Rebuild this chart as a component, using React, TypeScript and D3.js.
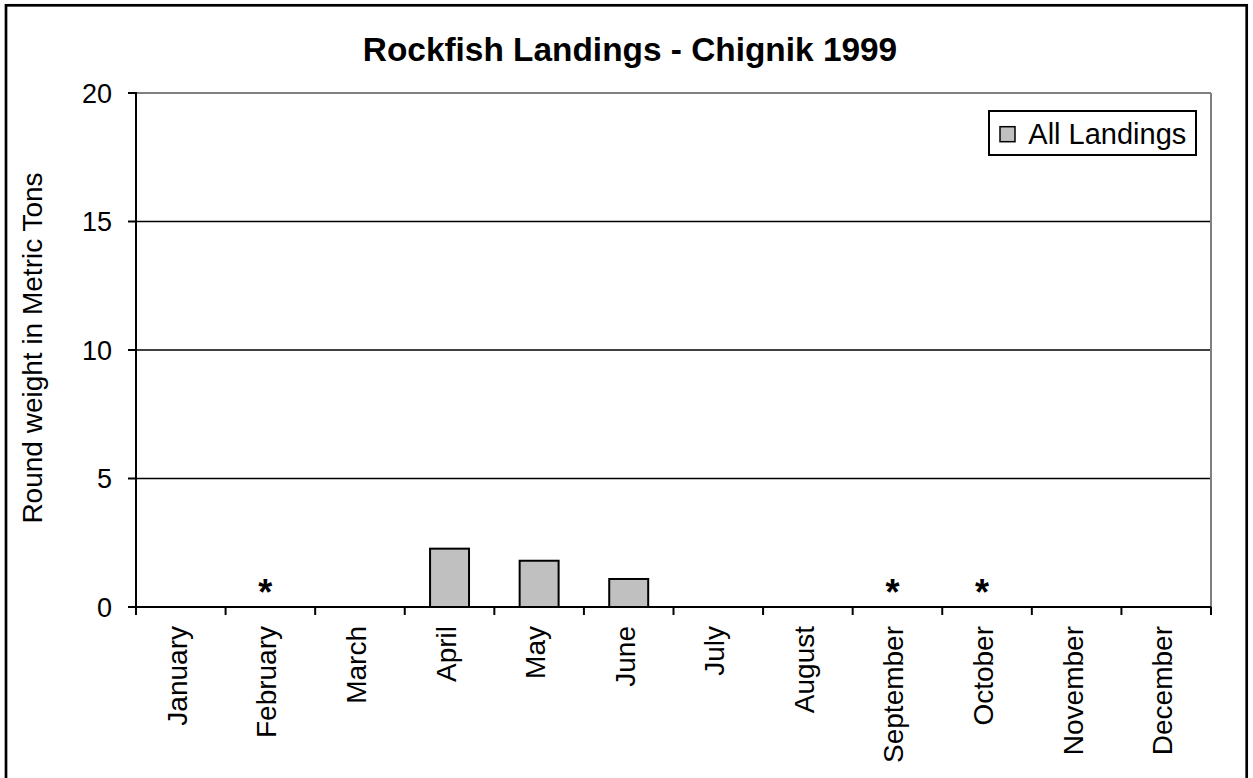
import React from "react";
import * as d3 from "d3";

const months = ["January","February","March","April","May","June","July","August","September","October","November","December"];
const landings = [0, 0, 0, 2.27, 1.8, 1.09, 0, 0, 0, 0, 0, 0];
const confidential = ["February", "September", "October"];
const yTicks = [0, 5, 10, 15, 20];
const title = "Rockfish Landings - Chignik 1999";
const yLabel = "Round weight in Metric Tons";
const legendLabel = "All Landings";

const W = 1253, H = 778;
const plot = { left: 136, right: 1211, top: 93, bottom: 607 };
const font = "Arial, 'Liberation Sans', Helvetica, sans-serif";

export default function App() {
  const x = d3.scaleBand<string>().domain(months).range([plot.left, plot.right]).padding(0);
  const y = d3.scaleLinear().domain([0, 20]).range([plot.bottom, plot.top]);
  const step = x.step();
  const barW = step * 0.435;
  const boundaries = d3.range(months.length + 1).map((i) => plot.left + i * step);

  return (
    <div style={{ position: "fixed", left: 0, top: 0, width: W, height: H, background: "#fff" }}>
      <svg width={W} height={H} style={{ display: "block", fontFamily: font }}>
        <rect x={0} y={0} width={W} height={H} fill="#fff" />
        <rect x={6} y={5.3} width={1240.7} height={800} fill="none" stroke="#000" strokeWidth={2.7} />
        <text x={630} y={61} textAnchor="middle" fontSize={33.4} fontWeight="bold">{title}</text>

        {/* gridlines */}
        {yTicks.filter((t) => t > 0 && t < 20).map((t) => (
          <line key={"g" + t} x1={plot.left} x2={plot.right} y1={y(t)} y2={y(t)} stroke="#000" strokeWidth={1.5} />
        ))}
        {/* plot border top/right */}
        <line x1={plot.left} x2={plot.right} y1={y(20)} y2={y(20)} stroke="#808080" strokeWidth={2} />
        <line x1={plot.right} x2={plot.right} y1={y(20)} y2={y(0)} stroke="#808080" strokeWidth={2} />

        {/* bars */}
        {months.map((m, i) => landings[i] > 0 ? (
          <rect key={"b" + m} x={(x(m) as number) + step / 2 - barW / 2} y={y(landings[i])}
            width={barW} height={y(0) - y(landings[i])} fill="#c0c0c0" stroke="#000" strokeWidth={2} />
        ) : null)}

        {/* confidential markers */}
        {confidential.map((m) => (
          <text key={"c" + m} x={(x(m) as number) + step / 2 - 5} y={605} textAnchor="middle" fontSize={36} fontWeight="bold">*</text>
        ))}

        {/* y axis */}
        <line x1={plot.left} x2={plot.left} y1={y(20) - 1} y2={y(0) + 1} stroke="#000" strokeWidth={2} />
        {yTicks.map((t) => (
          <g key={"t" + t}>
            <line x1={plot.left - 8} x2={plot.left} y1={y(t)} y2={y(t)} stroke="#000" strokeWidth={2} />
            <text x={112} y={y(t) + 9.8} textAnchor="end" fontSize={27}>{t}</text>
          </g>
        ))}
        <text transform={`translate(41.7,348) rotate(-90)`} textAnchor="middle" fontSize={28}>{yLabel}</text>

        {/* x axis */}
        <line x1={plot.left - 8} x2={plot.right} y1={y(0)} y2={y(0)} stroke="#000" strokeWidth={2} />
        {boundaries.map((b, i) => (
          <line key={"xt" + i} x1={b} x2={b} y1={y(0)} y2={y(0) + 8} stroke="#000" strokeWidth={2} />
        ))}
        {months.map((m) => (
          <text key={"l" + m} transform={`translate(${(x(m) as number) + step / 2 + 6},626) rotate(-90)`}
            textAnchor="end" fontSize={28}>{m}</text>
        ))}

        {/* legend */}
        <rect x={989} y={111} width={207} height={44} fill="#fff" stroke="#000" strokeWidth={2} />
        <rect x={1000} y={126.7} width={15} height={15} fill="#c0c0c0" stroke="#000" strokeWidth={1.5} />
        <text x={1028.3} y={144.3} fontSize={29} >{legendLabel}</text>
      </svg>
    </div>
  );
}
